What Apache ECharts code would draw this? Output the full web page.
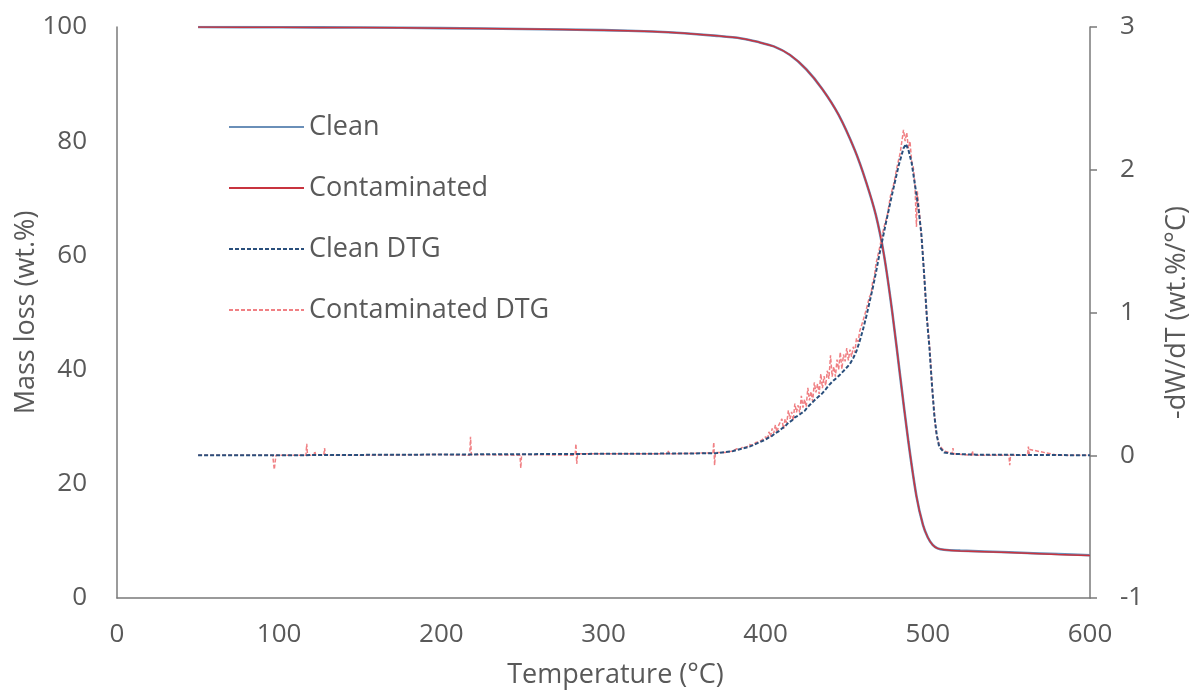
<!DOCTYPE html>
<html>
<head>
<meta charset="utf-8">
<title>TGA / DTG</title>
<script src="https://cdn.jsdelivr.net/npm/echarts@6/dist/echarts.min.js"></script>
<style>
  html, body { margin: 0; padding: 0; background: #ffffff; }
  #chart { width: 1197px; height: 690px; }
</style>
</head>
<body>
<div id="chart"></div>
<script>
// Thermogravimetric curves: temperature (°C) vs remaining mass (wt.%)
const tgTemp = [50, 100, 150, 200, 250, 300, 330, 350, 370, 385, 395, 405, 415, 425, 435, 445, 455, 462, 468, 473, 478, 483, 488, 493, 497, 500, 503, 506, 510, 520, 550, 580, 600];
const tgClean = [100, 99.95, 99.9, 99.8, 99.65, 99.45, 99.2, 98.9, 98.45, 98.0, 97.4, 96.6, 95.1, 92.6, 89.1, 84.6, 78.4, 72.8, 67.0, 60.0, 50.2, 38.7, 27.4, 17.8, 12.8, 10.6, 9.3, 8.7, 8.45, 8.3, 8.0, 7.7, 7.5];
const tgCont = [100, 99.95, 99.9, 99.8, 99.65, 99.45, 99.2, 98.9, 98.45, 98.0, 97.4, 96.6, 95.1, 92.6, 89.1, 84.6, 78.4, 72.8, 67.0, 60.0, 50.2, 38.7, 27.4, 17.8, 12.8, 10.6, 9.3, 8.7, 8.45, 8.25, 7.95, 7.6, 7.45];

// Derivative curve of the clean sample (wt.%/°C)
const dtgCleanTemp = [50, 100, 200, 300, 350, 370, 380, 390, 400, 402, 404, 406, 408, 410, 412, 414, 416, 418, 420, 421, 422, 423, 424, 425, 426, 427, 428, 429, 430, 431, 432, 433, 434, 435, 436, 437, 438, 439, 440, 441, 442, 443, 444, 445, 446, 447, 448, 449, 450, 452, 454, 456, 458, 460, 462, 464, 466, 468, 470, 474, 478, 482, 485, 486.5, 488, 490, 492, 494, 496, 498, 499.5, 501, 502.5, 504, 505.5, 507, 510, 515, 530, 600];
const dtgClean = [0, 0, 0.005, 0.01, 0.012, 0.015, 0.03, 0.06, 0.11, 0.125, 0.136, 0.155, 0.168, 0.187, 0.203, 0.228, 0.242, 0.265, 0.278, 0.292, 0.294, 0.308, 0.31, 0.325, 0.33, 0.35, 0.354, 0.372, 0.378, 0.395, 0.398, 0.415, 0.418, 0.435, 0.442, 0.462, 0.47, 0.49, 0.498, 0.515, 0.518, 0.535, 0.538, 0.555, 0.56, 0.578, 0.584, 0.602, 0.608, 0.64, 0.68, 0.73, 0.80, 0.88, 0.97, 1.07, 1.17, 1.28, 1.40, 1.62, 1.83, 2.03, 2.15, 2.18, 2.14, 2.05, 1.9, 1.75, 1.55, 1.22, 0.95, 0.75, 0.5, 0.28, 0.14, 0.06, 0.02, 0.01, 0.004, 0];

// Derivative curve of the contaminated sample, with its measurement noise
const dtgContTemp = [50, 80, 96, 97, 98, 110, 116.5, 117, 117.5, 121.5, 122, 122.5, 127.5, 128, 128.5, 150, 200, 217.5, 218, 218.5, 248.5, 249, 249.5, 282.5, 283, 283.5, 284, 300, 339.5, 340, 340.5, 360, 367.5, 368, 368.5, 369, 375,
  380, 382, 384, 386, 388, 390, 392, 394, 396, 398,
  400, 401, 402, 403, 404, 405, 406, 407, 408, 409, 410, 411, 412, 413, 414, 415, 416, 417, 418, 419, 420, 421, 422, 423, 424, 425, 426, 427, 428, 429,
  430, 431, 432, 433, 434, 435, 436, 437, 438, 439, 440, 441, 442, 443, 444, 445, 446, 447, 448, 449, 450, 451, 452, 453, 454, 455, 456, 457, 458, 459,
  460, 461, 462, 463, 464, 465, 466, 467, 468, 469, 470, 471, 473, 475, 477, 479, 481, 483, 484, 485, 486, 487, 488, 489, 490, 491, 492, 493, 493.5, 495, 497, 499, 501, 503, 505, 507, 510,
  515, 515.5, 516, 527, 527.5, 528, 540, 550, 550.5, 551, 561.5, 562, 562.5, 563, 580, 600];
const dtgCont = [0, 0, 0, -0.1, 0, 0, 0, 0.08, 0, 0, 0.03, 0, 0, 0.05, 0, 0, 0.005, 0, 0.13, 0.005, 0, -0.09, 0.005, 0, 0.08, -0.06, 0.01, 0.01, 0.01, 0.03, 0.01, 0.015, 0.015, 0.09, -0.07, 0.02, 0.02,
  0.03, 0.045, 0.04, 0.06, 0.055, 0.075, 0.07, 0.09, 0.095, 0.11,
  0.13, 0.107, 0.164, 0.131, 0.188, 0.155, 0.213, 0.161, 0.209, 0.197, 0.255, 0.185, 0.255, 0.225, 0.315, 0.255, 0.304, 0.243, 0.362, 0.301, 0.35, 0.298, 0.416, 0.334, 0.392, 0.34, 0.472, 0.384, 0.446, 0.378,
  0.51, 0.44, 0.5, 0.43, 0.57, 0.47, 0.554, 0.488, 0.592, 0.536, 0.70, 0.55, 0.62, 0.55, 0.67, 0.60, 0.722, 0.604, 0.706, 0.658, 0.75, 0.665, 0.74, 0.69, 0.76, 0.72, 0.82, 0.795, 0.87, 0.86,
  0.94, 0.935, 1.02, 1.02, 1.11, 1.13, 1.22, 1.245, 1.34, 1.35, 1.44, 1.45, 1.6, 1.68, 1.82, 1.9, 2.02, 2.12, 2.2, 2.28, 2.2, 2.26, 2.15, 2.2, 2.06, 2.02, 1.9, 1.6, 1.85, 1.68, 1.4, 1.02, 0.78, 0.42, 0.17, 0.07, 0.03,
  0.01, 0.05, 0.01, 0, 0.03, 0, 0, 0, -0.07, 0, 0, 0.06, 0.01, 0.04, 0, 0];

const legendNames = ['Clean', 'Contaminated', 'Clean DTG', 'Contaminated DTG'];
const xTicks = { min: 0, max: 600, step: 100 };
const massTicks = { min: 0, max: 100, step: 20 };
const dtgTicks = { min: -1, max: 3, step: 1 };

const zip = (xs, ys) => xs.map((x, i) => [x, ys[i]]);

const FONT = '"Open Sans", "Noto Sans", sans-serif';
const TEXT = '#595959';
const AXIS = '#7a7a7a';

const chart = echarts.init(document.getElementById('chart'), null, { renderer: 'canvas' });

chart.setOption({
  animation: false,
  backgroundColor: '#ffffff',
  textStyle: { fontFamily: FONT, color: TEXT },
  grid: { left: 117, right: 107, top: 27, bottom: 92, containLabel: false, outerBoundsMode: 'none' },
  legend: {
    data: legendNames,
    orient: 'vertical',
    left: 223,
    top: 108,
    itemWidth: 75,
    itemHeight: 14,
    itemGap: 33,
    itemStyle: { opacity: 0 },
    textStyle: { fontFamily: FONT, fontSize: 27, color: TEXT, lineHeight: 28 },
    selectedMode: false
  },
  xAxis: {
    type: 'value',
    min: xTicks.min,
    max: xTicks.max,
    interval: xTicks.step,
    name: 'Temperature (°C)',
    nameLocation: 'middle',
    nameGap: 64,
    nameMoveOverlap: false,
    nameTextStyle: { fontFamily: FONT, fontSize: 27, color: TEXT, padding: [0, 0, 0, 24] },
    axisLine: { show: true, lineStyle: { color: AXIS, width: 1.5 } },
    axisTick: { show: false },
    splitLine: { show: false },
    axisLabel: { fontFamily: FONT, fontSize: 26, color: TEXT, margin: 24 }
  },
  yAxis: [
    {
      type: 'value',
      position: 'left',
      min: massTicks.min,
      max: massTicks.max,
      interval: massTicks.step,
      name: 'Mass loss (wt.%)',
      nameLocation: 'middle',
      nameRotate: 90,
      nameGap: 77,
      nameMoveOverlap: false,
      nameTextStyle: { fontFamily: FONT, fontSize: 27, color: TEXT },
      axisLine: { show: true, lineStyle: { color: AXIS, width: 1.5 } },
      axisTick: { show: false },
      splitLine: { show: false },
      axisLabel: { fontFamily: FONT, fontSize: 26, color: TEXT, margin: 30 }
    },
    {
      type: 'value',
      position: 'right',
      min: dtgTicks.min,
      max: dtgTicks.max,
      interval: dtgTicks.step,
      name: '-dW/dT (wt.%/°C)',
      nameLocation: 'middle',
      nameRotate: 90,
      nameGap: 74,
      nameMoveOverlap: false,
      nameTextStyle: { fontFamily: FONT, fontSize: 27, color: TEXT },
      axisLine: { show: true, lineStyle: { color: AXIS, width: 1.5 } },
      axisTick: { show: true, inside: false, length: 7, lineStyle: { color: AXIS, width: 1.5 } },
      splitLine: { show: false },
      axisLabel: { fontFamily: FONT, fontSize: 26, color: TEXT, margin: 30 }
    }
  ],
  series: [
    {
      name: 'Clean',
      type: 'line',
      yAxisIndex: 0,
      data: zip(tgTemp, tgClean),
      showSymbol: false,
      symbol: 'none',
      smooth: 0.3,
      z: 3,
      color: '#6f93ba',
      lineStyle: { color: '#6a8fb8', width: 2.6 }
    },
    {
      name: 'Contaminated',
      type: 'line',
      yAxisIndex: 0,
      data: zip(tgTemp, tgCont),
      showSymbol: false,
      symbol: 'none',
      smooth: 0.3,
      z: 4,
      color: '#e2454b',
      lineStyle: { color: '#c8343f', width: 1.5 }
    },
    {
      name: 'Clean DTG',
      type: 'line',
      yAxisIndex: 1,
      data: zip(dtgCleanTemp, dtgClean),
      showSymbol: false,
      symbol: 'none',
      z: 6,
      color: '#2f5b8a',
      lineStyle: { color: '#2a4f7c', width: 2, type: [4, 2] }
    },
    {
      name: 'Contaminated DTG',
      type: 'line',
      yAxisIndex: 1,
      data: zip(dtgContTemp, dtgCont),
      showSymbol: false,
      symbol: 'none',
      z: 5,
      color: '#f09496',
      lineStyle: { color: '#f08084', width: 1.5, type: [4, 2] }
    }
  ]
});
</script>
</body>
</html>
